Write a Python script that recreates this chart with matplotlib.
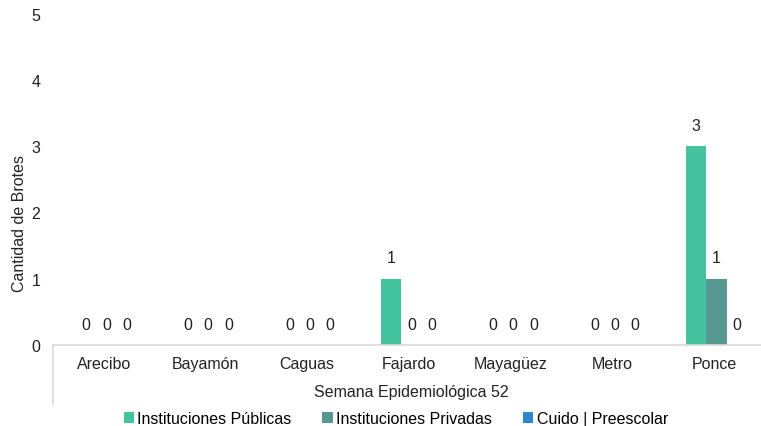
import matplotlib.pyplot as plt
import numpy as np

plt.rcParams['font.family'] = ['Liberation Sans', 'DejaVu Sans']

# data
regiones = ['Arecibo', 'Bayamón', 'Caguas', 'Fajardo', 'Mayagüez', 'Metro', 'Ponce']
publicas = [0, 0, 0, 1, 0, 0, 3]
privadas = [0, 0, 0, 0, 0, 0, 1]
cuido = [0, 0, 0, 0, 0, 0, 0]
series = ['Instituciones Públicas', 'Instituciones Privadas', 'Cuido | Preescolar']
colores = ['#44c49e', '#569791', '#2f86cb']

fs = 11.5
fig = plt.figure(figsize=(7.61, 4.27), dpi=100)
ax = fig.add_axes([0.0696, 0.19, 0.9356, 0.775])

x = np.arange(len(regiones))
w = 0.2
for i, (vals, name, c) in enumerate(zip([publicas, privadas, cuido], series, colores)):
    pos = x + (i - 1) * w + 0.025
    bars = ax.bar(pos, vals, width=w, color=c, label=name)
    for b, v in zip(bars, vals):
        ax.annotate(str(v), (b.get_x() + b.get_width() / 2, v), xytext=(0, 15),
                    textcoords='offset points', ha='center', va='center', fontsize=fs,
                    color='#222222')

ax.set_xlim(-0.5, len(regiones) - 0.5)
ax.set_ylim(0, 5)
ax.set_yticks(range(6))
ax.set_xticks(x)
ax.set_xticklabels(regiones)
ax.tick_params(axis='both', length=0, labelsize=fs, colors='#222222')
ax.tick_params(axis='x', pad=8)
ax.tick_params(axis='y', pad=9)
for s in ['top', 'right', 'left']:
    ax.spines[s].set_visible(False)
ax.spines['bottom'].set_color('#d9d9d9')
ax.spines['bottom'].set_linewidth(1.2)

# left separator of the category axis
ax.plot([-0.5, -0.5], [0, -0.9], color='#d9d9d9', lw=1.2, clip_on=False)

ax.set_ylabel('Cantidad de Brotes', fontsize=fs, color='#222222')
ax.yaxis.set_label_coords(-0.036, 0.37)
fig.text(0.541, 0.08, 'Semana Epidemiológica 52', ha='center', va='center',
         fontsize=fs, color='#222222')

fig.legend(loc='center', bbox_to_anchor=(0.52, 0.018), ncol=3, frameon=False,
           fontsize=fs, handlelength=0.65, handleheight=0.65, handletextpad=0.2,
           columnspacing=1.95)

fig.savefig('out.png', dpi=100)
